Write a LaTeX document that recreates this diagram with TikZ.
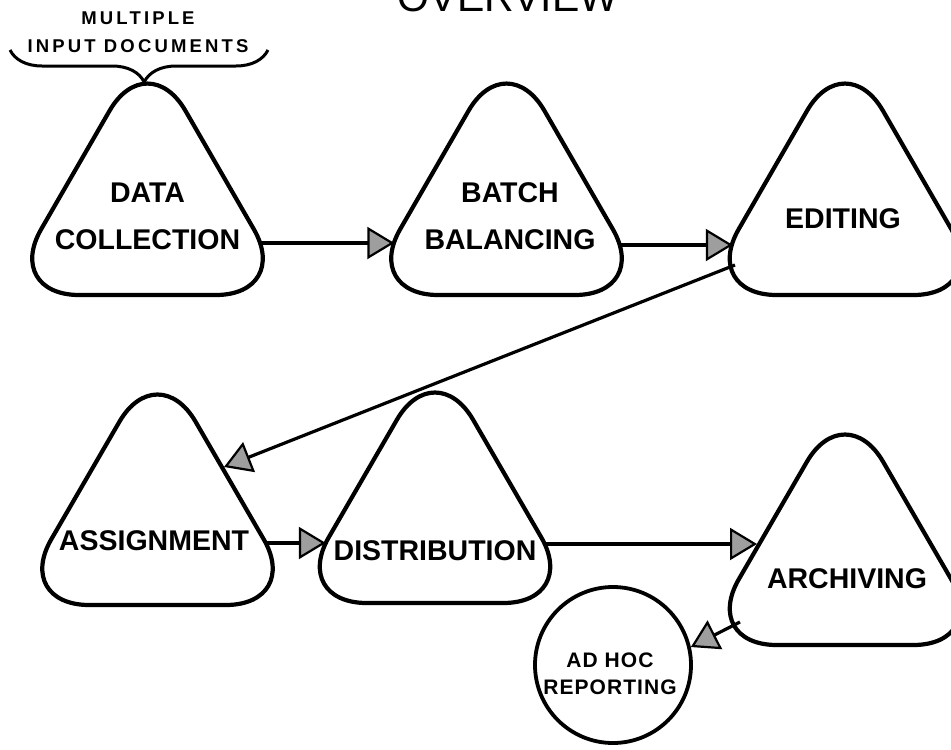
\documentclass[tikz,border=0pt]{standalone}
\usepackage{fontspec}
\setmainfont{Liberation Sans}
\newfontfamily\spacedfont[LetterSpace=17]{Liberation Sans}
\newfontfamily\roomyfont[LetterSpace=5]{Liberation Sans}
\usetikzlibrary{arrows.meta,decorations.pathreplacing}
\definecolor{tipgray}{gray}{0.62}

\tikzset{
  outline/.style={line width=4.2pt, line cap=round, line join=round},
  tribox/.style={rectangle, minimum width=224pt, minimum height=206pt, inner sep=0pt},
  stagelabel/.style={font=\bfseries\fontsize{28.5}{47}\selectfont, align=center, inner sep=0pt},
  smalllabel/.style={font=\roomyfont\bfseries\fontsize{21}{27}\selectfont, align=center, inner sep=0pt},
  notelabel/.style={font=\spacedfont\bfseries\fontsize{18.5}{28}\selectfont, align=center, inner sep=0pt},
  flow/.style={line width=3.2pt,
    -{Triangle[length=27pt, width=32pt, line width=2.2pt, fill=tipgray]}},
  bracestyle/.style={line width=3pt, decorate,
    decoration={brace, amplitude=32pt, aspect=0.48}},
}

% rounded triangle stage: name, centre x, top y, bottom y
\newcommand\stageshape[4]{%
  \node[tribox] (#1) at (#2, {(#3+#4)/2}) {};
  \draw[outline, rounded corners=76pt]
    (#2, #4) -- ({#2+144.3}, #4) -- (#2, {#3-44}) -- ({#2-144.3}, #4) -- (#2, #4);
}

\begin{document}
\begin{tikzpicture}[x=1pt, y=-1pt]
  \useasboundingbox (0,0) rectangle (951,750);
  \clip (0,0) rectangle (951,750);
  \fill[white] (0,0) rectangle (951,750);

  % heading
  \node[font=\fontsize{41}{41}\selectfont, anchor=base, inner sep=0pt] (title) at (508, 11) {OVERVIEW};

  % input note with its brace
  \node[notelabel, anchor=north] (note) at (138, 12) {MULTIPLE\\INPUT DOCUMENTS};
  \coordinate (brace-l) at (10, 50);
  \coordinate (brace-r) at (268, 50);
  \draw[bracestyle] (brace-r) -- (brace-l);

  % stages
  \stageshape{dc}{147.5}{89}{295}
  \stageshape{bb}{506.5}{89}{295}
  \stageshape{ed}{845}{89}{295}
  \stageshape{as}{157.5}{400}{605}
  \stageshape{ds}{435}{398}{603}
  \stageshape{ar}{845}{440}{645}

  \node[stagelabel, anchor=north] (dc-t) at (147.5, 183) {DATA\\COLLECTION};
  \node[stagelabel, anchor=north] (bb-t) at (510, 182) {BATCH\\BALANCING};
  \node[stagelabel, anchor=base] (ed-t) at (843, 228) {EDITING};
  \node[stagelabel, anchor=base] (as-t) at (154, 550) {ASSIGNMENT};
  \node[stagelabel, anchor=base] (ds-t) at (435, 560) {DISTRIBUTION};
  \node[stagelabel, anchor=base] (ar-t) at (847, 588) {ARCHIVING};

  % report circle
  \node[circle, draw, line width=3.8pt, minimum size=156pt, inner sep=0pt] (ah) at (613, 665) {};
  \node[smalllabel, anchor=north] (ah-t) at (610, 653) {AD HOC\\REPORTING};

  % flow between stages
  \coordinate (ed-out) at (735, 265);
  \coordinate (as-in) at (224, 467);
  \coordinate (ar-in) at (757, 544);
  \coordinate (ar-out) at (740, 622);

  \draw[flow] ([yshift=-51pt]dc.east) -- ([yshift=-51pt]bb.west);
  \draw[flow] ([yshift=-53pt]bb.east) -- ([yshift=-53pt]ed.west);
  \draw[flow] (ed-out) -- (as-in);
  \draw[flow] ([xshift=-4pt, yshift=-40.5pt]as.east) -- ([xshift=3pt, yshift=-42.5pt]ds.west);
  \draw[flow] ([xshift=-3pt, yshift=-43.5pt]ds.east) -- (ar-in);
  \draw[flow] (ar-out) -- (ah.13);
\end{tikzpicture}
\end{document}
